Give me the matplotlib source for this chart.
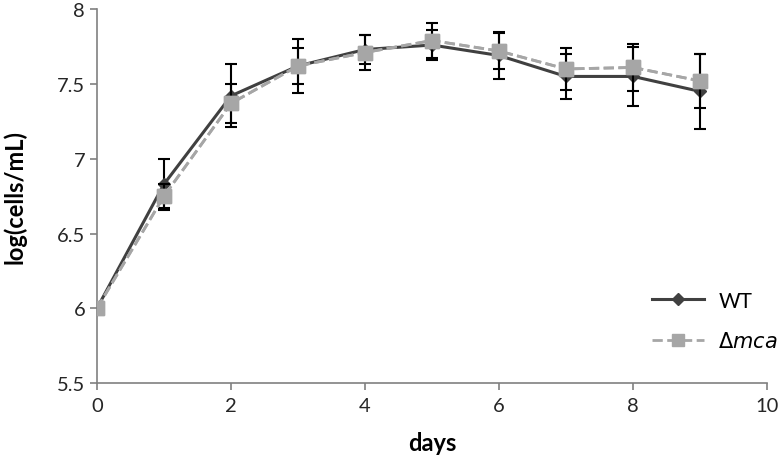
import matplotlib
matplotlib.use("Agg")
import matplotlib.pyplot as plt
from matplotlib.lines import Line2D

days = [0, 1, 2, 3, 4, 5, 6, 7, 8, 9]
wt = [6.0, 6.83, 7.42, 7.62, 7.73, 7.76, 7.69, 7.55, 7.55, 7.45]
wt_err = [0.0, 0.17, 0.21, 0.18, 0.10, 0.10, 0.16, 0.15, 0.20, 0.25]
mca = [6.0, 6.75, 7.37, 7.62, 7.71, 7.79, 7.72, 7.60, 7.61, 7.52]
mca_err = [0.0, 0.08, 0.13, 0.12, 0.12, 0.12, 0.12, 0.14, 0.16, 0.18]

plt.rcParams['font.family'] = ['Lato', 'DejaVu Sans']

fig = plt.figure(figsize=(7.79, 4.6), dpi=100)
ax = fig.add_axes([0.1245, 0.165, 0.8601, 0.813])

ax.errorbar(days, mca, yerr=mca_err, color='#a6a6a6', ls='--', lw=2,
            marker='s', ms=10, mfc='#a6a6a6', mec='#a6a6a6',
            ecolor='black', elinewidth=1.5, capsize=4, capthick=1.5, zorder=2)
ax.errorbar(days, wt, yerr=wt_err, color='#404040', ls='-', lw=2.2,
            marker='D', ms=6, mfc='#404040', mec='#404040',
            ecolor='black', elinewidth=1.5, capsize=4, capthick=1.5, zorder=1)
ax.plot(days, mca, color='#a6a6a6', ls='--', lw=2, marker='s', ms=10, zorder=3)

ax.set_xlim(0, 10)
ax.set_ylim(5.5, 8)
ax.set_xticks([0, 2, 4, 6, 8, 10])
ax.set_yticks([5.5, 6, 6.5, 7, 7.5, 8])
ax.set_yticklabels(['5.5', '6', '6.5', '7', '7.5', '8'])
for s in ['top', 'right']:
    ax.spines[s].set_visible(False)
for s in ['left', 'bottom']:
    ax.spines[s].set_color('#808080')
    ax.spines[s].set_linewidth(1.2)
ax.tick_params(axis='both', colors='#808080', labelcolor='#262626', labelsize=14.5,
               direction='out', length=5, width=1.2)
ax.tick_params(axis='x', pad=5)
ax.set_xlabel('days', fontsize=17, fontweight='bold', labelpad=12)
ax.set_ylabel('log(cells/mL)', fontsize=17, fontweight='bold', labelpad=22)

handles = [
    Line2D([], [], color='#404040', ls='-', lw=2.2, marker='D', ms=6),
    Line2D([], [], color='#a6a6a6', ls='--', lw=2, marker='s', ms=9),
]
ax.legend(handles, ['WT', r'$\Delta$' + '$\\it{mca}$'], frameon=False,
          loc='center left', bbox_to_anchor=(0.828, 0.166), borderaxespad=0,
          borderpad=0, fontsize=15, handlelength=2.5, handletextpad=0.7,
          labelspacing=1.0)

fig.savefig('out.png', dpi=100)
